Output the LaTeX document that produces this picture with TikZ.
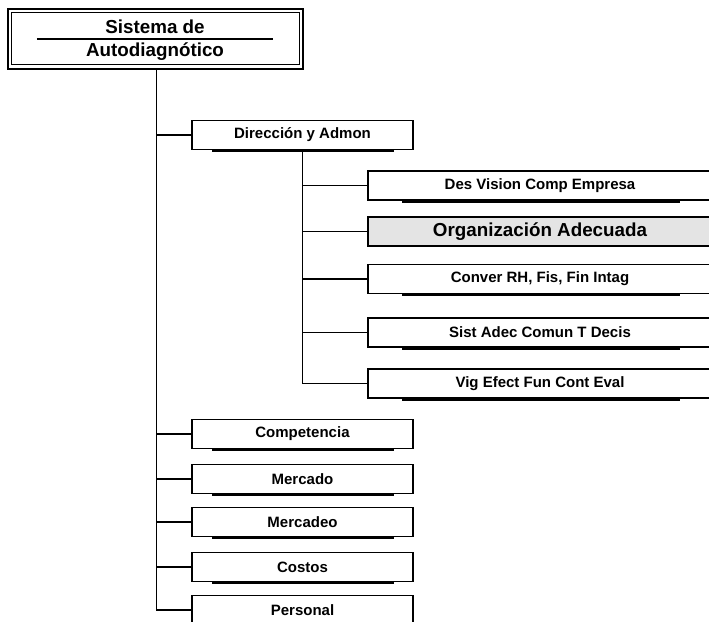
\documentclass[tikz,border=0pt]{standalone}
\usepackage{fontspec}
\setmainfont{Liberation Sans}
\usetikzlibrary{calc}
\definecolor{hilite}{HTML}{E4E4E4}
\tikzset{
  box/.style={draw, line width=1.4pt, fill=white, minimum height=29pt, inner sep=0pt,
              font=\bfseries\fontsize{15}{16}\selectfont},
  lvlone/.style={box, minimum width=221pt},
  lvltwo/.style={box, minimum width=344pt},
  bigtext/.style={font=\bfseries\fontsize{18.8}{20}\selectfont},
  link/.style={line width=1.7pt},
  shade/.style={line width=2pt},
}
\begin{document}
\begin{tikzpicture}[x=1pt,y=-1pt]
\useasboundingbox (0,0) rectangle (709,621);
\clip (0,0) rectangle (709,621);

% root box with double frame
\node[minimum width=295pt, minimum height=60pt, inner sep=0pt] (root) at (155.5,39) {};
\draw[line width=1.8pt] (root.north west) rectangle (root.south east);
\draw[line width=1.2pt] ($(root.north west)+(4,4)$) rectangle ($(root.south east)+(-4,-5)$);
\node[bigtext] (rt1) at (155,27) {Sistema de};
\node[bigtext] (rt2) at (155,52) {Autodiagnótico};
\draw[line width=1.4pt] ($(root.west)+(29,0)$) -- ($(root.east)+(-30,0)$);

% first level
\node[lvlone] (dir)  at (302.5,135) {Dirección y Admon};
\node[lvlone] (comp) at (302.5,434) {Competencia};
\node[lvlone] (merc) at (302.5,479) {Mercado};
\node[lvlone] (mkt)  at (302.5,522) {Mercadeo};
\node[lvlone] (cost) at (302.5,567) {Costos};
\node[lvlone] (pers) at (302.5,610) {Personal};

% second level under Dirección
\node[lvltwo] (des)  at (540,185.5) {Des Vision Comp Empresa};
\node[lvltwo, fill=hilite, bigtext] (org) at (540,231.5) {Organización Adecuada};
\node[lvltwo] (conv) at (540,279) {Conver RH, Fis, Fin Intag};
\node[lvltwo] (sist) at (540,332.5) {Sist Adec Comun T Decis};
\node[lvltwo] (vig)  at (540,383.5) {Vig Efect Fun Cont Eval};

% shadow strokes under the boxes
\foreach \n in {dir,comp,merc,mkt,cost}
  \draw[shade] ($(\n.south west)+(21,1.2)$) -- ($(\n.south east)+(-20,1.2)$);
\foreach \n in {des,conv,sist,vig}
  \draw[shade] ($(\n.south west)+(35,1.2)$) -- ($(\n.south east)+(-33,1.2)$);

% main trunk and branches
\coordinate (trunk) at ($(root.south)+(1,0)$);
\draw[link] (trunk) -- (trunk |- pers.west) -- (pers.west);
\foreach \n in {dir,comp,merc,mkt,cost}
  \draw[link] (trunk |- \n.west) -- (\n.west);

% sub-trunk from Dirección
\draw[link] (dir.south) -- (dir.south |- vig.west) -- (vig.west);
\foreach \n in {des,org,conv,sist}
  \draw[link] (dir.south |- \n.west) -- (\n.west);
\end{tikzpicture}
\end{document}
